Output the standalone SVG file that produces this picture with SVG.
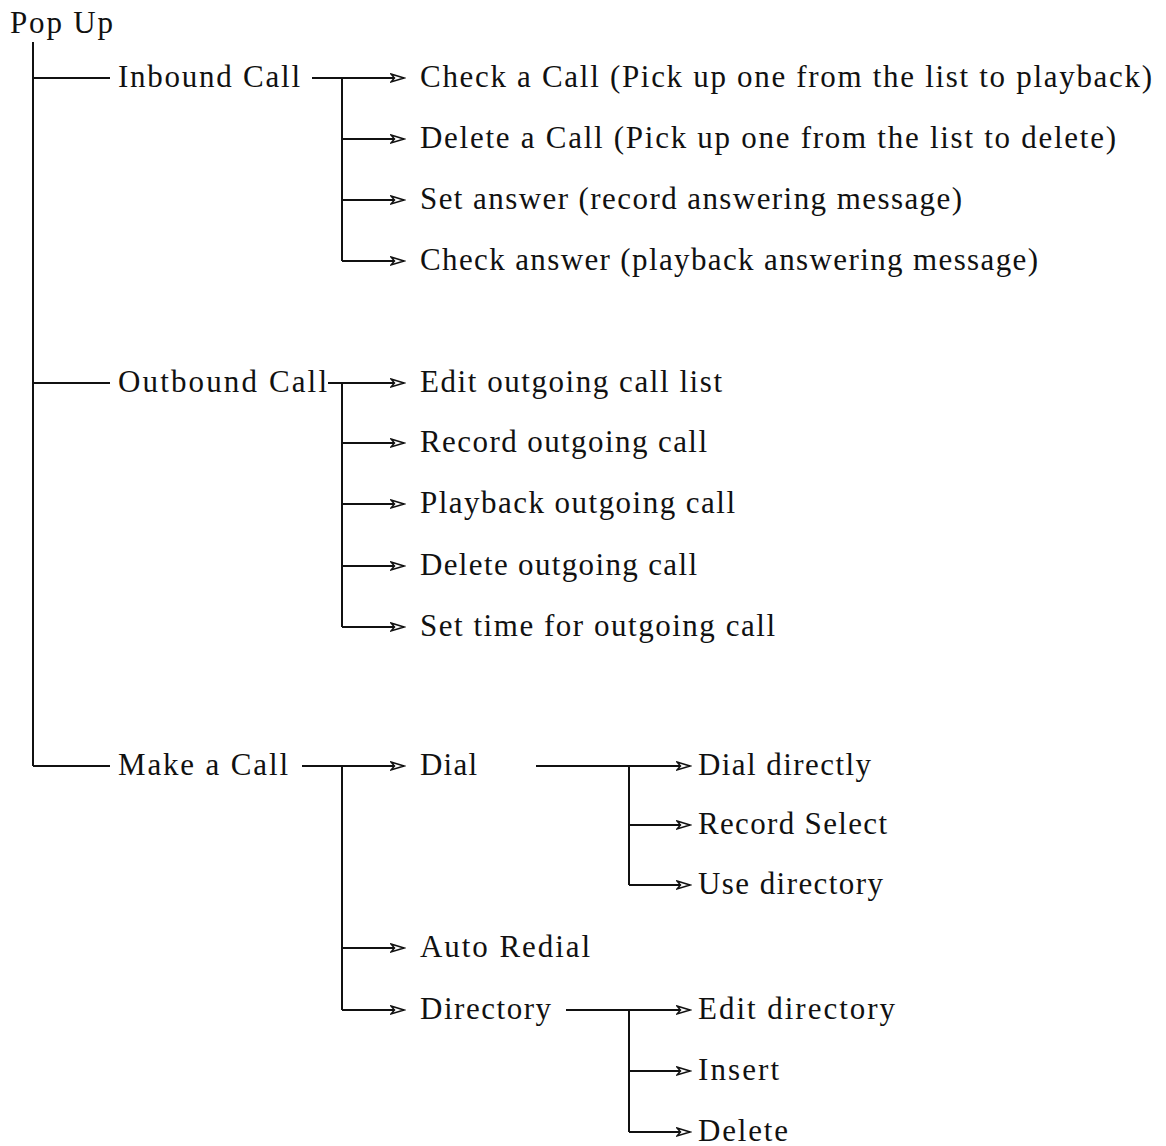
<svg xmlns="http://www.w3.org/2000/svg" width="1166" height="1146" viewBox="0 0 1166 1146">
<style>
text{font-family:"Liberation Serif","DejaVu Serif",serif;font-size:31px;fill:#111}
.c line,.c path{stroke:#111;stroke-width:2;fill:none}
.a{marker-end:url(#ar)}
</style>
<defs>
<marker id="ar" markerUnits="userSpaceOnUse" markerWidth="16" markerHeight="12" refX="14" refY="6" orient="auto">
<path d="M1,2 L14,6 L1,10 L4.5,6 Z" fill="#fff" stroke="#111" stroke-width="1.5"/>
</marker>
</defs>
<rect width="1166" height="1146" fill="#fff"/>
<g class="c" id="connectors">
<line x1="33" y1="42" x2="33" y2="766"/>
<line x1="33" y1="78" x2="110" y2="78"/>
<line x1="33" y1="383" x2="110" y2="383"/>
<line x1="33" y1="766" x2="110" y2="766"/>
<line class="a" x1="312" y1="78" x2="404" y2="78"/>
<line x1="342" y1="78" x2="342" y2="261"/>
<line class="a" x1="342" y1="139" x2="404" y2="139"/>
<line class="a" x1="342" y1="200" x2="404" y2="200"/>
<line class="a" x1="342" y1="261" x2="404" y2="261"/>
<line class="a" x1="328" y1="383" x2="404" y2="383"/>
<line x1="342" y1="383" x2="342" y2="627"/>
<line class="a" x1="342" y1="443" x2="404" y2="443"/>
<line class="a" x1="342" y1="504" x2="404" y2="504"/>
<line class="a" x1="342" y1="566" x2="404" y2="566"/>
<line class="a" x1="342" y1="627" x2="404" y2="627"/>
<line class="a" x1="302" y1="766" x2="404" y2="766"/>
<line x1="342" y1="766" x2="342" y2="1010"/>
<line class="a" x1="342" y1="948" x2="404" y2="948"/>
<line class="a" x1="342" y1="1010" x2="404" y2="1010"/>
<line class="a" x1="536" y1="766" x2="690" y2="766"/>
<line x1="629" y1="766" x2="629" y2="885"/>
<line class="a" x1="629" y1="825" x2="690" y2="825"/>
<line class="a" x1="629" y1="885" x2="690" y2="885"/>
<line class="a" x1="566" y1="1010" x2="690" y2="1010"/>
<line x1="629" y1="1010" x2="629" y2="1132"/>
<line class="a" x1="629" y1="1071" x2="690" y2="1071"/>
<line class="a" x1="629" y1="1132" x2="690" y2="1132"/>
</g>
<g id="pop-up"><text x="10" y="33" textLength="103">Pop Up</text></g>
<g id="inbound-call"><text x="118" y="87" textLength="182">Inbound Call</text></g>
<g id="check-a-call"><text x="420" y="87" textLength="732">Check a Call (Pick up one from the list to playback)</text></g>
<g id="delete-a-call"><text x="420" y="148" textLength="696">Delete a Call (Pick up one from the list to delete)</text></g>
<g id="set-answer"><text x="420" y="209" textLength="542">Set answer (record answering message)</text></g>
<g id="check-answer"><text x="420" y="270" textLength="618">Check answer (playback answering message)</text></g>
<g id="outbound-call"><text x="118" y="392" textLength="209">Outbound Call</text></g>
<g id="edit-outgoing"><text x="420" y="392" textLength="302">Edit outgoing call list</text></g>
<g id="record-outgoing"><text x="420" y="452" textLength="287">Record outgoing call</text></g>
<g id="playback-outgoing"><text x="420" y="513" textLength="315">Playback outgoing call</text></g>
<g id="delete-outgoing"><text x="420" y="575" textLength="277">Delete outgoing call</text></g>
<g id="set-time"><text x="420" y="636" textLength="355">Set time for outgoing call</text></g>
<g id="make-a-call"><text x="118" y="775" textLength="170">Make a Call</text></g>
<g id="dial"><text x="420" y="775" textLength="57">Dial</text></g>
<g id="auto-redial"><text x="420" y="957" textLength="170">Auto Redial</text></g>
<g id="directory"><text x="420" y="1019" textLength="131">Directory</text></g>
<g id="dial-directly"><text x="698" y="775" textLength="173">Dial directly</text></g>
<g id="record-select"><text x="698" y="834" textLength="189">Record Select</text></g>
<g id="use-directory"><text x="698" y="894" textLength="185">Use directory</text></g>
<g id="edit-directory"><text x="698" y="1019" textLength="197">Edit directory</text></g>
<g id="insert"><text x="698" y="1080" textLength="81">Insert</text></g>
<g id="delete"><text x="698" y="1141" textLength="90">Delete</text></g>
</svg>
